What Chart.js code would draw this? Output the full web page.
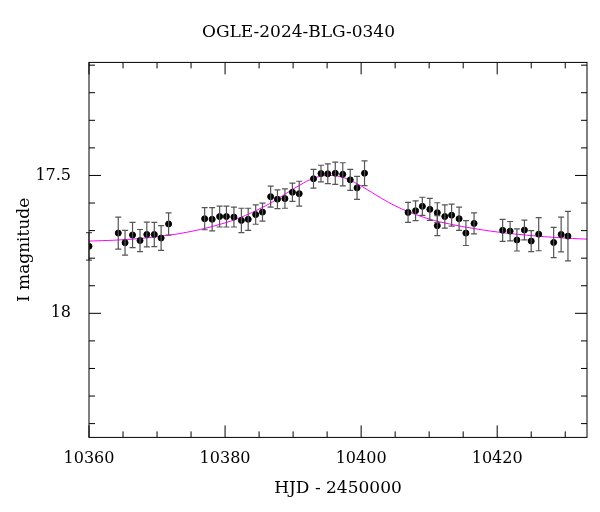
<!DOCTYPE html>
<html><head><meta charset="utf-8">
<script src="https://cdn.jsdelivr.net/npm/chart.js@4/dist/chart.umd.min.js"></script>
<style>body{margin:0;background:#fff}#wrap{width:600px;height:512px}</style>
</head><body><div id="wrap"><canvas id="c"></canvas></div>
<script>
// 观测数据
const hjd = [10360.0,10364.3,10365.3,10366.4,10367.5,10368.5,10369.6,10370.6,10371.7,
  10377.0,10378.1,10379.2,10380.2,10381.3,10382.4,10383.4,10384.5,10385.5,10386.7,10387.7,
  10388.8,10389.9,10390.9,10393.0,10394.1,10395.1,10396.2,10397.3,10398.4,10399.4,10400.5,
  10406.9,10408.0,10409.0,10410.1,10411.2,10411.2,10412.3,10413.3,10414.4,10415.4,10416.6,
  10420.8,10421.9,10422.9,10424.0,10425.0,10426.1,10428.3,10429.4,10430.4];
const mag = [17.757,17.709,17.744,17.716,17.736,17.714,17.714,17.727,17.676,
  17.657,17.659,17.649,17.649,17.651,17.663,17.659,17.642,17.633,17.577,17.586,
  17.584,17.561,17.566,17.512,17.493,17.494,17.492,17.496,17.516,17.545,17.492,
  17.634,17.628,17.612,17.623,17.635,17.682,17.649,17.644,17.657,17.709,17.674,
  17.699,17.702,17.734,17.698,17.738,17.713,17.743,17.714,17.720];
const err = [0.05,0.058,0.045,0.046,0.04,0.045,0.044,0.045,0.04,
  0.04,0.042,0.038,0.038,0.036,0.044,0.04,0.035,0.033,0.038,0.034,
  0.035,0.033,0.045,0.034,0.03,0.036,0.04,0.042,0.038,0.042,0.045,
  0.036,0.036,0.033,0.04,0.036,0.036,0.042,0.04,0.042,0.045,0.038,
  0.04,0.035,0.04,0.036,0.038,0.06,0.055,0.063,0.09];
// 模型曲线
const modelT = [10360,10365,10370,10375,10380,10383,10385,10387,10389,10391,10393,10395,10397,10399,10401,10403,10405,10407,10410,10413,10416,10420,10425,10430,10434];
const modelM = [17.738,17.733,17.722,17.703,17.672,17.645,17.622,17.596,17.565,17.535,17.51,17.5,17.505,17.525,17.553,17.583,17.61,17.632,17.658,17.676,17.69,17.705,17.718,17.727,17.732];
const xMajor = [10360,10380,10400,10420];
const yMajor = [17.5,18];

const FONT = '"DejaVu Serif", "Liberation Serif", serif';

const frame = {
  id: 'frame',
  afterDatasetsDraw(chart) {
    const {ctx, chartArea: a, scales: {x, y}} = chart;
    ctx.save();
    // 误差棒
    ctx.strokeStyle = '#555'; ctx.lineWidth = 1.2;
    hjd.forEach((t, i) => {
      const px = x.getPixelForValue(t);
      const y1 = y.getPixelForValue(mag[i] - err[i]);
      const y2 = y.getPixelForValue(mag[i] + err[i]);
      ctx.beginPath();
      ctx.moveTo(px, y1); ctx.lineTo(px, y2);
      ctx.moveTo(px - 3, y1); ctx.lineTo(px + 3, y1);
      ctx.moveTo(px - 3, y2); ctx.lineTo(px + 3, y2);
      ctx.stroke();
    });
    // 边框与刻度
    ctx.strokeStyle = '#000'; ctx.lineWidth = 1;
    ctx.strokeRect(a.left, a.top, a.right - a.left, a.bottom - a.top);
    ctx.beginPath();
    for (let v = 10360; v <= 10433; v += 5) {
      const px = x.getPixelForValue(v);
      const len = v % 20 === 0 ? 12 : 6;
      ctx.moveTo(px, a.bottom); ctx.lineTo(px, a.bottom - len);
      ctx.moveTo(px, a.top); ctx.lineTo(px, a.top + len);
    }
    for (let k = 171; k <= 184; k++) {
      const v = k / 10;
      const py = y.getPixelForValue(v);
      const len = k % 5 === 0 ? 12 : 6;
      ctx.moveTo(a.left, py); ctx.lineTo(a.left + len, py);
      ctx.moveTo(a.right, py); ctx.lineTo(a.right - len, py);
    }
    ctx.stroke();
    ctx.restore();
  }
};

new Chart(document.getElementById('c'), {
  type: 'scatter',
  data: {
    datasets: [
      { data: hjd.map((t, i) => ({x: t, y: mag[i]})), backgroundColor: '#000', borderColor: '#000', pointRadius: 3, order: 1 },
      { type: 'line', data: modelT.map((t, i) => ({x: t, y: modelM[i]})), borderColor: '#ff00ff', borderWidth: 1, pointRadius: 0, tension: 0.4, order: 2 }
    ]
  },
  options: {
    responsive: true, maintainAspectRatio: false, animation: false,
    layout: { padding: { top: 8, right: 13, left: 10, bottom: 9 } },
    plugins: {
      legend: { display: false }, tooltip: { enabled: false },
      title: { display: true, text: 'OGLE-2024-BLG-0340', color: '#000', font: { family: FONT, size: 17, weight: 'normal' }, padding: { top: 14, bottom: 20 } }
    },
    scales: {
      x: {
        type: 'linear', min: 10360, max: 10433.2,
        afterBuildTicks: s => { s.ticks = xMajor.map(v => ({value: v})); },
        ticks: { color: '#000', font: { family: FONT, size: 16 }, padding: 4, maxRotation: 0, callback: v => v },
        grid: { display: false }, border: { display: false },
        title: { display: true, text: 'HJD - 2450000', color: '#000', font: { family: FONT, size: 17 }, padding: { top: 6 } }
      },
      y: {
        reverse: true, min: 17.09, max: 18.45,
        afterBuildTicks: s => { s.ticks = yMajor.map(v => ({value: v})); },
        afterFit: s => { s.width = 79; },
        ticks: { color: '#000', font: { family: FONT, size: 16 }, padding: 10, callback: v => v },
        grid: { display: false }, border: { display: false },
        title: { display: true, text: 'I magnitude', color: '#000', font: { family: FONT, size: 17 }, padding: { bottom: 8 } }
      }
    }
  },
  plugins: [frame]
});
</script></body></html>
